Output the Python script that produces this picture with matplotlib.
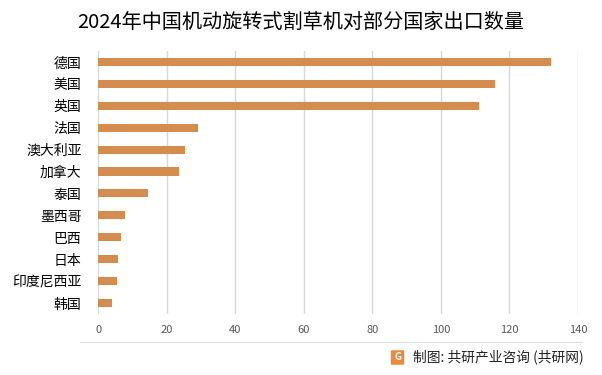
import matplotlib
matplotlib.use("Agg")
import matplotlib.pyplot as plt
from matplotlib.patches import FancyBboxPatch
from matplotlib.lines import Line2D

plt.rcParams['font.family'] = ['Noto Sans CJK SC', 'DejaVu Sans']

# Data
countries = ["德国", "美国", "英国", "法国", "澳大利亚", "加拿大",
             "泰国", "墨西哥", "巴西", "日本", "印度尼西亚", "韩国"]
values = [132, 115.7, 111, 29, 25.4, 23.5, 14.5, 7.8, 6.7, 5.8, 5.5, 4.0]
xticks = [0, 20, 40, 60, 80, 100, 120, 140]

title = "2024年中国机动旋转式割草机对部分国家出口数量"
source = "制图: 共研产业咨询 (共研网)"

fig = plt.figure(figsize=(6.02, 3.75), dpi=100)
ax = fig.add_axes([0.163, 0.163, 0.797, 0.701])

ypos = list(range(len(countries)))
ax.barh(ypos, values, height=0.37, color="#D58C4F", zorder=3)
ax.set_ylim(len(countries) - 0.5, -0.5)
ax.set_xlim(0, 140)
ax.set_xticks(xticks)
ax.set_xticklabels([str(t) for t in xticks], fontsize=8, color="#595959")
ax.set_yticks(ypos)
ax.set_yticklabels(countries, fontsize=10, color="#000000")
ax.tick_params(axis="both", length=0, pad=8)
ax.tick_params(axis="y", pad=12)

ax.grid(axis="x", color="#d9d9d9", linewidth=1, zorder=0)
for s in ax.spines.values():
    s.set_visible(False)

# Title
fig.text(0.5, 0.94, title, ha="center", va="center", fontsize=14.5, color="#000000")

# Separator line and footer
fig.add_artist(Line2D([0.133, 0.967], [0.088, 0.088], transform=fig.transFigure,
                      color="#e0e0e0", linewidth=0.8))
logo = FancyBboxPatch((392 / 602, 1 - 364 / 375), 11 / 602, 13 / 375,
                      boxstyle="round,pad=0.002", transform=fig.transFigure,
                      facecolor="#EE8A3C", edgecolor="none")
fig.add_artist(logo)
fig.text(397.5 / 602, 1 - 357.5 / 375, "G", ha="center", va="center",
         fontsize=7, color="white", fontweight="bold")
fig.text(413 / 602, 1 - 357 / 375, source, ha="left", va="center",
         fontsize=9.9, color="#222222")

fig.savefig("out.png", dpi=100)
